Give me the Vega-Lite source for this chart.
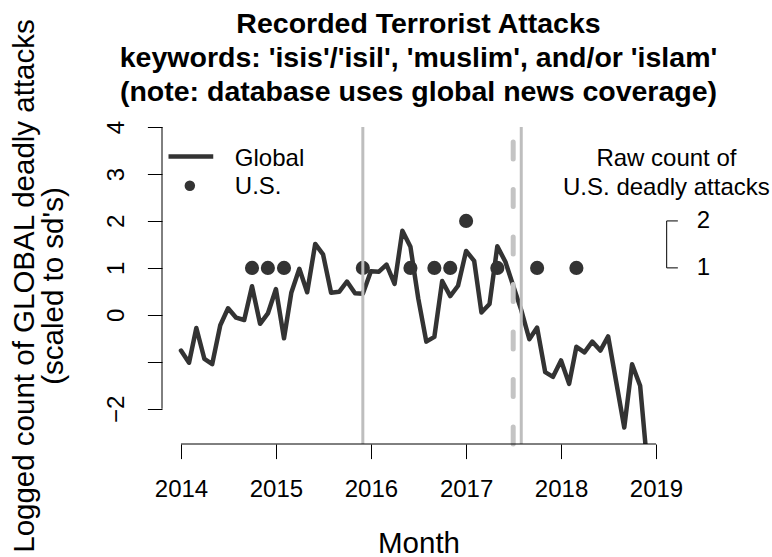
{
  "$schema": "https://vega.github.io/schema/vega-lite/v6.json",
  "width": 513,
  "height": 317,
  "autosize": {"type": "none"},
  "padding": {"left": 162, "top": 127, "right": 97, "bottom": 113},
  "background": "white",
  "config": {
    "view": {"stroke": null},
    "font": "Liberation Sans",
    "text": {"font": "Liberation Sans", "color": "#000000"}
  },
  "title": {
    "text": [
      "Recorded Terrorist Attacks",
      "keywords: 'isis'/'isil', 'muslim', and/or 'islam'",
      "(note: database uses global news coverage)"
    ],
    "font": "Liberation Sans",
    "fontSize": 28.5,
    "fontWeight": "bold",
    "color": "#000000",
    "lineHeight": 34,
    "anchor": "middle",
    "frame": "group",
    "offset": 15,
    "dy": 103
  },
  "datasets": {
    "global": [
      {"month": "2014-01-01", "z": -0.76},
      {"month": "2014-02-01", "z": -1.02},
      {"month": "2014-03-01", "z": -0.28},
      {"month": "2014-04-01", "z": -0.94},
      {"month": "2014-05-01", "z": -1.05},
      {"month": "2014-06-01", "z": -0.22},
      {"month": "2014-07-01", "z": 0.14},
      {"month": "2014-08-01", "z": -0.06},
      {"month": "2014-09-01", "z": -0.11},
      {"month": "2014-10-01", "z": 0.61},
      {"month": "2014-11-01", "z": -0.19},
      {"month": "2014-12-01", "z": 0.03},
      {"month": "2015-01-01", "z": 0.55},
      {"month": "2015-02-01", "z": -0.5},
      {"month": "2015-03-01", "z": 0.47},
      {"month": "2015-04-01", "z": 0.98},
      {"month": "2015-05-01", "z": 0.48},
      {"month": "2015-06-01", "z": 1.51},
      {"month": "2015-07-01", "z": 1.29},
      {"month": "2015-08-01", "z": 0.47},
      {"month": "2015-09-01", "z": 0.49},
      {"month": "2015-10-01", "z": 0.71},
      {"month": "2015-11-01", "z": 0.46},
      {"month": "2015-12-01", "z": 0.45},
      {"month": "2016-01-01", "z": 0.93},
      {"month": "2016-02-01", "z": 0.92},
      {"month": "2016-03-01", "z": 1.07},
      {"month": "2016-04-01", "z": 0.66},
      {"month": "2016-05-01", "z": 1.79},
      {"month": "2016-06-01", "z": 1.45},
      {"month": "2016-07-01", "z": 0.35},
      {"month": "2016-08-01", "z": -0.57},
      {"month": "2016-09-01", "z": -0.47},
      {"month": "2016-10-01", "z": 0.72},
      {"month": "2016-11-01", "z": 0.4},
      {"month": "2016-12-01", "z": 0.62},
      {"month": "2017-01-01", "z": 1.36},
      {"month": "2017-02-01", "z": 1.15},
      {"month": "2017-03-01", "z": 0.05},
      {"month": "2017-04-01", "z": 0.23},
      {"month": "2017-05-01", "z": 1.46},
      {"month": "2017-06-01", "z": 1.13},
      {"month": "2017-07-01", "z": 0.62},
      {"month": "2017-08-01", "z": 0.1},
      {"month": "2017-09-01", "z": -0.52},
      {"month": "2017-10-01", "z": -0.27},
      {"month": "2017-11-01", "z": -1.22},
      {"month": "2017-12-01", "z": -1.32},
      {"month": "2018-01-01", "z": -0.97},
      {"month": "2018-02-01", "z": -1.47},
      {"month": "2018-03-01", "z": -0.68},
      {"month": "2018-04-01", "z": -0.8},
      {"month": "2018-05-01", "z": -0.57},
      {"month": "2018-06-01", "z": -0.76},
      {"month": "2018-07-01", "z": -0.46},
      {"month": "2018-08-01", "z": -1.43},
      {"month": "2018-09-01", "z": -2.4},
      {"month": "2018-10-01", "z": -1.05},
      {"month": "2018-11-01", "z": -1.51},
      {"month": "2018-12-01", "z": -3.35}
    ],
    "us": [
      {"month": "2014-10-01", "count": 1},
      {"month": "2014-12-01", "count": 1},
      {"month": "2015-02-01", "count": 1},
      {"month": "2015-12-01", "count": 1},
      {"month": "2016-06-01", "count": 1},
      {"month": "2016-09-01", "count": 1},
      {"month": "2016-11-01", "count": 1},
      {"month": "2017-01-01", "count": 2},
      {"month": "2017-05-01", "count": 1},
      {"month": "2017-10-01", "count": 1},
      {"month": "2018-03-01", "count": 1}
    ],
    "key_dates": [
      {"date": "2015-12-01"},
      {"date": "2017-08-01"}
    ],
    "reference_date": [
      {"date": "2017-07-01"}
    ],
    "us_scale": [
      {"count": 1},
      {"count": 2}
    ]
  },
  "layer": [
    {
      "data": {"name": "global"},
      "mark": {"type": "line", "color": "#333333", "strokeWidth": 4.5, "strokeJoin": "round", "strokeCap": "round", "clip": true},
      "encoding": {
        "x": {
          "field": "month",
          "type": "temporal",
          "scale": {
            "type": "utc",
            "domain": [
              {"year": 2013, "month": 10, "date": 20, "utc": true},
              {"year": 2019, "month": 3, "date": 15, "utc": true}
            ]
          },
          "axis": {
            "title": "Month",
            "values": [
              {"year": 2014, "utc": true},
              {"year": 2015, "utc": true},
              {"year": 2016, "utc": true},
              {"year": 2017, "utc": true},
              {"year": 2018, "utc": true},
              {"year": 2019, "utc": true}
            ],
            "format": "%Y",
            "formatType": "utc",
            "domain": false,
            "grid": false,
            "ticks": true,
            "tickSize": 14.6,
            "tickColor": "#000000",
            "tickWidth": 1,
            "labelFont": "Liberation Sans",
            "labelFontSize": 24,
            "labelColor": "#000000",
            "labelAlign": "center",
            "labelBaseline": "alphabetic",
            "labelPadding": 38.1,
            "labelFlush": false,
            "labelOverlap": false,
            "titleFont": "Liberation Sans",
            "titleFontSize": 29.5,
            "titleFontWeight": "normal",
            "titleColor": "#000000",
            "titleAlign": "center",
            "titleBaseline": "alphabetic",
            "titleX": 256.5,
            "titleY": 108
          }
        },
        "y": {
          "field": "z",
          "type": "quantitative",
          "scale": {"domain": [-2.75, 4], "nice": false, "zero": false},
          "axis": {
            "title": ["Logged count of GLOBAL deadly attacks", "(scaled to sd's)"],
            "values": [-2, -1, 0, 1, 2, 3, 4],
            "labelExpr": "datum.value == -1 ? '' : datum.label",
            "domain": false,
            "grid": false,
            "tickSize": 14.6,
            "tickColor": "#000000",
            "tickWidth": 1,
            "labelFont": "Liberation Sans",
            "labelFontSize": 24,
            "labelColor": "#000000",
            "labelAngle": 270,
            "labelAlign": "center",
            "labelBaseline": "alphabetic",
            "labelPadding": 24.1,
            "labelOverlap": false,
            "labelFlush": false,
            "titleFont": "Liberation Sans",
            "titleFontSize": 29.5,
            "titleFontWeight": "normal",
            "titleColor": "#000000",
            "titleAngle": 270,
            "titleAlign": "center",
            "titleBaseline": "alphabetic",
            "titleLineHeight": 29.5,
            "titleX": -128.7,
            "titleY": 158.5
          }
        }
      }
    },
    {
      "data": {"name": "us"},
      "mark": {"type": "point", "filled": true, "color": "#333333", "opacity": 1, "size": 200},
      "encoding": {
        "x": {"field": "month", "type": "temporal"},
        "y": {"field": "count", "type": "quantitative"}
      }
    },
    {
      "data": {"name": "key_dates"},
      "mark": {"type": "rule", "color": "#BEBEBE", "strokeWidth": 3},
      "encoding": {
        "x": {"field": "date", "type": "temporal"},
        "y": {"datum": -2.75},
        "y2": {"datum": 4}
      }
    },
    {
      "data": {"name": "reference_date"},
      "mark": {"type": "rule", "color": "#C4C4C4", "strokeWidth": 5, "strokeDash": [17, 30.5], "strokeCap": "round"},
      "encoding": {
        "x": {"field": "date", "type": "temporal"},
        "y": {"datum": -2.75},
        "y2": {"datum": 4}
      }
    },
    {
      "data": {"values": [{}]},
      "mark": {"type": "rule", "color": "#000000", "strokeWidth": 1},
      "encoding": {
        "x": {"datum": {"year": 2014, "utc": true}, "type": "temporal"},
        "x2": {"datum": {"year": 2019, "utc": true}},
        "y": {"datum": -2.75}
      }
    },
    {
      "data": {"values": [{}]},
      "mark": {"type": "rule", "color": "#000000", "strokeWidth": 1},
      "encoding": {
        "x": {"datum": {"year": 2013, "month": 10, "date": 20, "utc": true}, "type": "temporal"},
        "y": {"datum": -2},
        "y2": {"datum": 4}
      }
    },
    {
      "data": {"values": [{}]},
      "mark": {"type": "rule", "color": "#333333", "strokeWidth": 4.5},
      "encoding": {
        "x": {"datum": {"year": 2013, "month": 11, "date": 14, "utc": true}, "type": "temporal"},
        "x2": {"datum": {"year": 2014, "month": 5, "date": 5, "utc": true}},
        "y": {"datum": 3.37}
      }
    },
    {
      "data": {"values": [{}]},
      "mark": {"type": "point", "filled": true, "color": "#333333", "opacity": 1, "size": 110},
      "encoding": {
        "x": {"datum": {"year": 2014, "month": 2, "date": 4, "utc": true}, "type": "temporal"},
        "y": {"datum": 2.75}
      }
    },
    {
      "data": {"values": [{}]},
      "mark": {"type": "text", "text": "Global", "fontSize": 24, "align": "left", "baseline": "alphabetic", "color": "#000000"},
      "encoding": {
        "x": {"datum": {"year": 2014, "month": 7, "date": 27, "utc": true}, "type": "temporal"},
        "y": {"datum": 3.17}
      }
    },
    {
      "data": {"values": [{}]},
      "mark": {"type": "text", "text": "U.S.", "fontSize": 24, "align": "left", "baseline": "alphabetic", "color": "#000000"},
      "encoding": {
        "x": {"datum": {"year": 2014, "month": 7, "date": 27, "utc": true}, "type": "temporal"},
        "y": {"datum": 2.57}
      }
    },
    {
      "data": {"values": [{}]},
      "mark": {"type": "text", "text": ["Raw count of", "U.S. deadly attacks"], "fontSize": 24, "lineHeight": 28.8, "align": "center", "baseline": "alphabetic", "color": "#000000"},
      "encoding": {
        "x": {"datum": {"year": 2019, "month": 2, "date": 10, "utc": true}, "type": "temporal"},
        "y": {"datum": 3.17}
      }
    },
    {
      "data": {"values": [{}]},
      "mark": {"type": "rule", "color": "#000000", "strokeWidth": 1},
      "encoding": {
        "x": {"datum": {"year": 2019, "month": 2, "date": 11, "utc": true}, "type": "temporal"},
        "y": {"datum": 1},
        "y2": {"datum": 2}
      }
    },
    {
      "data": {"name": "us_scale"},
      "mark": {"type": "rule", "color": "#000000", "strokeWidth": 1},
      "encoding": {
        "x": {"datum": {"year": 2019, "month": 2, "date": 11, "utc": true}, "type": "temporal"},
        "x2": {"datum": {"year": 2019, "month": 3, "date": 26, "utc": true}},
        "y": {"field": "count", "type": "quantitative"}
      }
    },
    {
      "data": {"name": "us_scale"},
      "mark": {"type": "text", "fontSize": 24, "align": "left", "baseline": "middle", "color": "#000000"},
      "encoding": {
        "x": {"datum": {"year": 2019, "month": 6, "date": 7, "utc": true}, "type": "temporal"},
        "y": {"field": "count", "type": "quantitative"},
        "text": {"field": "count", "type": "quantitative"}
      }
    }
  ]
}
